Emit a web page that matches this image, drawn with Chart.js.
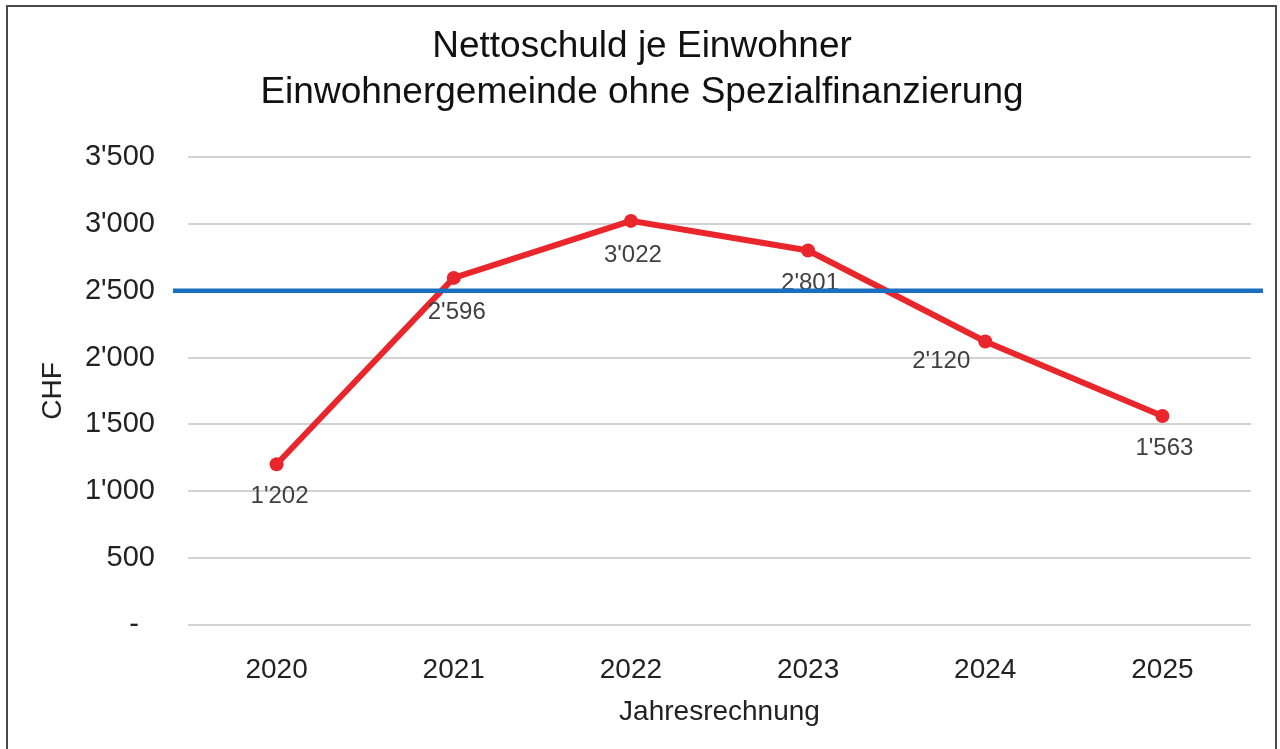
<!DOCTYPE html>
<html>
<head>
<meta charset="utf-8">
<script src="https://cdn.jsdelivr.net/npm/chart.js@4/dist/chart.umd.min.js"></script>
<style>
  html, body { margin: 0; padding: 0; background: #fff; overflow: hidden; }
  #wrap { position: relative; width: 1280px; height: 749px; }
  #frame { position: absolute; left: 6px; top: 5px; width: 1267px; height: 760px; border: 2px solid #4a4a4a; pointer-events: none; }
  canvas { position: absolute; left: 0; top: 0; }
</style>
</head>
<body>
<div id="wrap">
  <canvas id="c" width="1280" height="749"></canvas>
  <div id="frame"></div>
</div>
<script>
const categories = ['2020', '2021', '2022', '2023', '2024', '2025'];
const debtPerInhabitant = [1202, 2596, 3022, 2801, 2120, 1563];
const referenceValue = [2500];
const yTicks = [0, 500, 1000, 1500, 2000, 2500, 3000, 3500];
const titleLines = ['Nettoschuld je Einwohner', 'Einwohnergemeinde ohne Spezialfinanzierung'];

const FONT = "'Liberation Sans', Arial, sans-serif";

function fmt(v) {
  if (v === 0) return '-  ';
  return String(Math.round(v)).replace(/\B(?=(\d{3})+(?!\d))/g, "'");
}

const labelPlugin = {
  id: 'pointLabels',
  afterDatasetsDraw(chart, args, opts) {
    const ctx = chart.ctx;
    const meta = chart.getDatasetMeta(0);
    ctx.save();
    ctx.font = '24px ' + FONT;
    ctx.fillStyle = '#404040';
    ctx.textAlign = 'center';
    ctx.textBaseline = 'middle';
    meta.data.forEach((pt, i) => {
      const off = opts.offsets[i] || [0, 32];
      ctx.fillText(fmt(debtPerInhabitant[i]), pt.x + off[0], pt.y + off[1]);
    });
    ctx.restore();
  }
};

const refLinePlugin = {
  id: 'refLine',
  afterDatasetsDraw(chart, args, opts) {
    const ctx = chart.ctx;
    const y = chart.scales.y.getPixelForValue(referenceValue[0]);
    ctx.save();
    ctx.strokeStyle = opts.color;
    ctx.lineWidth = opts.width;
    ctx.beginPath();
    ctx.moveTo(chart.chartArea.left - 15, y);
    ctx.lineTo(chart.chartArea.right + 12, y);
    ctx.stroke();
    ctx.restore();
  }
};

new Chart(document.getElementById('c'), {
  type: 'line',
  data: {
    labels: categories,
    datasets: [{
      data: debtPerInhabitant,
      borderColor: '#e9262b',
      backgroundColor: '#e9262b',
      borderWidth: 6,
      pointRadius: 7,
      pointHoverRadius: 7,
      pointBorderWidth: 0,
      tension: 0,
      fill: false
    }]
  },
  options: {
    responsive: false,
    animation: false,
    events: [],
    layout: { padding: { left: 33, right: 29, top: 0, bottom: 0 } },
    plugins: {
      legend: { display: false },
      tooltip: { enabled: false },
      title: {
        display: true,
        text: titleLines,
        color: '#111',
        font: { family: FONT, size: 37, weight: 'normal', lineHeight: '46px' },
        padding: { top: 24, bottom: 41 }
      },
      pointLabels: {
        offsets: [[3, 32], [3, 34], [2, 34], [2, 33], [-44, 20], [2, 32]]
      },
      refLine: { color: '#1a6fc0', width: 4.5 }
    },
    scales: {
      x: {
        offset: true,
        grid: { display: false },
        border: { display: false },
        ticks: { color: '#222', font: { family: FONT, size: 28 }, padding: 20 },
        title: {
          display: true, text: 'Jahresrechnung', color: '#222',
          font: { family: FONT, size: 28, lineHeight: 1.2 },
          padding: { top: 0, bottom: 20 }
        },
        afterFit(s) { s.height = 124; }
      },
      y: {
        min: 0, max: 3500,
        afterBuildTicks(s) { s.ticks = yTicks.map(v => ({ value: v })); },
        grid: { color: '#d3d3d3', lineWidth: 2, drawTicks: false },
        border: { display: false },
        ticks: { color: '#222', font: { family: FONT, size: 29 }, padding: 33, callback: v => fmt(v) },
        title: {
          display: true, text: 'CHF', color: '#222',
          font: { family: FONT, size: 28, lineHeight: 1.2 },
          padding: { top: 3, bottom: 0 }
        },
        afterFit(s) { s.width = 155; }
      }
    }
  },
  plugins: [labelPlugin, refLinePlugin]
});
</script>
</body>
</html>
